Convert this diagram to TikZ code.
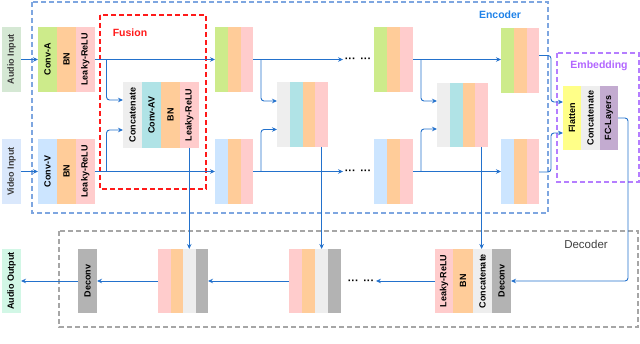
\documentclass[tikz,border=0pt]{standalone}
\usepackage{fontspec}
\setmainfont{Liberation Sans}
\usepackage{graphicx}
\usetikzlibrary{arrows.meta,calc}
\definecolor{cgreen}{HTML}{CDEB8B}
\definecolor{corange}{HTML}{FFCC99}
\definecolor{cpink}{HTML}{FFCCCC}
\definecolor{cblue}{HTML}{CCE5FF}
\definecolor{clgray}{HTML}{EEEEEE}
\definecolor{cteal}{HTML}{B0E3E6}
\definecolor{cdgray}{HTML}{B3B3B3}
\definecolor{cyellow}{HTML}{FFFF88}
\definecolor{cpurple}{HTML}{C3ABD0}
\definecolor{cain}{HTML}{D5E8D4}
\definecolor{cvin}{HTML}{DAE8FC}
\definecolor{caout}{HTML}{D2F7E6}
\definecolor{lc}{HTML}{2371CC}
\definecolor{encc}{HTML}{7EA6E0}
\definecolor{enct}{HTML}{1F82E8}
\definecolor{fusc}{HTML}{FF1A1A}
\definecolor{embc}{HTML}{B57EFF}
\definecolor{embt}{HTML}{B266FF}
\definecolor{decc}{HTML}{A6A6A6}
\definecolor{dect}{HTML}{404040}
\definecolor{intext}{HTML}{3C3C3C}
\newcommand\mkst[7]{\node[st, fill=#6, minimum width=#4pt, minimum height=#5pt] (#1) at (#2,#3) {\rotatebox{90}{#7}};}
\tikzset{
  st/.style={draw=none, inner sep=0pt, outer sep=0pt, anchor=north west, font=\bfseries\fontsize{9}{10}\selectfont},
  ln/.style={draw=lc, line width=0.9pt},
  arr/.style={ln, -{Stealth[length=5pt,width=4.5pt]}},
  dotsnode/.style={inner sep=1.5pt, text height=6.6pt, text depth=0pt, font=\bfseries\fontsize{11}{11}\selectfont},
  lab/.style={font=\bfseries\fontsize{10.5}{11}\selectfont},
}
\begin{document}
\begin{tikzpicture}[x=1pt,y=-1pt]
\useasboundingbox (0,0) rectangle (640,344);
% containers
\draw[encc, line width=1.3pt, dash pattern=on 5pt off 3pt] (32,2) rectangle (548,213);
\draw[fusc, line width=1.8pt, dash pattern=on 5pt off 3pt] (100,15) rectangle (206,189);
\draw[embc, line width=1.3pt, dash pattern=on 5pt off 3pt] (557,53) rectangle (639,182);
\draw[decc, line width=1.3pt, dash pattern=on 5pt off 3pt] (59,231) rectangle (638,327);
\node[lab, text=enct] (enclab) at (500,15) {Encoder};
\node[lab, text=fusc] (fuslab) at (130,33) {Fusion};
\node[lab, text=embt] (emblab) at (599,66) {Embedding};
\node[font=\fontsize{11.5}{12}\selectfont, text=dect] (declab) at (586,244) {Decoder};
% inputs / output
\mkst{ain}{2}{27}{19}{65}{cain}{\textcolor{intext}{Audio Input}}
\mkst{vin}{2}{139}{19}{65}{cvin}{\textcolor{intext}{Video Input}}
\mkst{aout}{2}{249}{19}{64}{caout}{Audio Output}
% column 1
\mkst{ca1}{38}{27}{19}{65}{cgreen}{Conv-A}
\mkst{ca2}{57}{27}{19}{65}{corange}{BN}
\mkst{ca3}{76}{27}{18.5}{65}{cpink}{Leaky-ReLU}
\mkst{cv1}{38}{139}{19}{65}{cblue}{Conv-V}
\mkst{cv2}{57}{139}{19}{65}{corange}{BN}
\mkst{cv3}{76}{139}{18.5}{65}{cpink}{Leaky-ReLU}
\mkst{f1a}{123}{82}{19}{66}{clgray}{Concatenate}
\mkst{f1b}{142}{82}{19}{66}{cteal}{Conv-AV}
\mkst{f1c}{161}{82}{19}{66}{corange}{BN}
\mkst{f1d}{180}{82}{18.5}{66}{cpink}{Leaky-ReLU}
% column 2
\mkst{g2a}{215}{27}{13}{65}{cgreen}{}
\mkst{g2b}{228}{27}{12.5}{65}{corange}{}
\mkst{g2c}{240.5}{27}{12.5}{65}{cpink}{}
\mkst{b2a}{215}{139}{13}{65}{cblue}{}
\mkst{b2b}{228}{139}{12.5}{65}{corange}{}
\mkst{b2c}{240.5}{139}{12.5}{65}{cpink}{}
\mkst{f2a}{277}{82}{12.75}{65}{clgray}{}
\mkst{f2b}{289.75}{82}{12.75}{65}{cteal}{}
\mkst{f2c}{302.5}{82}{12.75}{65}{corange}{}
\mkst{f2d}{315.25}{82}{12.75}{65}{cpink}{}
% column 3
\mkst{g3a}{374}{27}{13}{65}{cgreen}{}
\mkst{g3b}{387}{27}{12.5}{65}{corange}{}
\mkst{g3c}{399.5}{27}{13.5}{65}{cpink}{}
\mkst{b3a}{374}{139}{13}{65}{cblue}{}
\mkst{b3b}{387}{139}{12.5}{65}{corange}{}
\mkst{b3c}{399.5}{139}{13.5}{65}{cpink}{}
\mkst{f3a}{437}{83}{12.75}{64}{clgray}{}
\mkst{f3b}{449.75}{83}{12.75}{64}{cteal}{}
\mkst{f3c}{462.5}{83}{12.75}{64}{corange}{}
\mkst{f3d}{475.25}{83}{12.75}{64}{cpink}{}
% column 4
\mkst{g4a}{501}{28}{13}{65}{cgreen}{}
\mkst{g4b}{514}{28}{12.5}{65}{corange}{}
\mkst{g4c}{526.5}{28}{12.5}{65}{cpink}{}
\mkst{b4a}{501}{139.5}{13}{65}{cblue}{}
\mkst{b4b}{514}{139.5}{12.5}{65}{corange}{}
\mkst{b4c}{526.5}{139.5}{12.5}{65}{cpink}{}
% embedding
\mkst{fl}{563}{86}{18}{64}{cyellow}{Flatten}
\mkst{ec}{581}{86}{19}{64}{clgray}{Concatenate}
\mkst{fc}{600}{86}{18}{64}{cpurple}{FC-Layers}
% decoder
\mkst{dl}{435}{249}{18}{64}{cpink}{Leaky-ReLU}
\mkst{db}{453}{249}{20}{64}{corange}{BN}
\mkst{dc}{473}{249}{19}{64}{clgray}{Concatenate}
\mkst{dd}{492}{249}{19}{64}{cdgray}{Deconv}
\mkst{e1}{289}{249}{13}{64}{cpink}{}
\mkst{e2}{302}{249}{13}{64}{corange}{}
\mkst{e3}{315}{249}{13}{64}{clgray}{}
\mkst{e4}{328}{249}{13}{64}{cdgray}{}
\mkst{h1}{158}{249}{12.5}{64}{cpink}{}
\mkst{h2}{170.5}{249}{12.5}{64}{corange}{}
\mkst{h3}{183}{249}{12.5}{64}{clgray}{}
\mkst{h4}{195.5}{249}{12.5}{64}{cdgray}{}
\mkst{dcv}{78}{249}{19}{64}{cdgray}{Deconv}
% dots
\node[dotsnode] (dots1) at (358,59.5) {···\hspace{4.5pt}···};
\node[dotsnode] (dots2) at (358,171.5) {···\hspace{4.5pt}···};
\node[dotsnode] (dots3) at (361,281) {···\hspace{4.5pt}···};
% connectors
\draw[arr] (ain.east) -- (ca1.west);
\draw[arr] (vin.east) -- (cv1.west);
\draw[arr] (ca3.east) -- (g2a.west);
\draw[arr] (cv3.east) -- (b2a.west);
\draw[arr, rounded corners=3pt] ([xshift=12pt]ca3.east) |- ([yshift=15pt]f1a.west);
\draw[arr, rounded corners=3pt] ([xshift=12pt]cv3.east) |- ([yshift=-15pt]f1a.west);
\draw[arr] (f1d.south) -- (f1d.south |- h3.north);
\draw[arr] (g2c.east) -- (dots1.west);
\draw[arr] (b2c.east) -- (dots2.west);
\draw[arr, rounded corners=3pt] ([xshift=8pt]g2c.east) |- ([yshift=13.5pt]f2a.west);
\draw[arr, rounded corners=3pt] ([xshift=8pt]b2c.east) |- ([yshift=-15pt]f2a.west);
\draw[arr] (f2d.south) -- (f2d.south |- e3.north);
\draw[arr] (g3c.east) -- (g3c.east -| g4a.west);
\draw[arr] (b3c.east) -- (b3c.east -| b4a.west);
\draw[arr, rounded corners=3pt] ([xshift=8pt]g3c.east) |- ([yshift=14pt]f3a.west);
\draw[arr, rounded corners=3pt] ([xshift=8pt]b3c.east) |- ([yshift=-14pt]f3a.west);
\draw[arr] (f3d.south) -- (f3d.south |- dc.north);
\draw[arr, rounded corners=3pt] ([yshift=5pt]g4c.east) -- ++(12pt,0) |- ([yshift=16pt]fl.west);
\draw[arr, rounded corners=3pt] (b4c.east) -- ++(12pt,0) |- ([yshift=-15pt]fl.west);
\draw[arr, rounded corners=3pt] (fc.east) -- ++(10pt,0) |- (dd.east);
\draw[arr] (dl.west) -- (dots3.east);
\draw[arr] (e1.west) -- (h4.east);
\draw[arr] (h1.west) -- (dcv.east);
\draw[arr] (dcv.west) -- (aout.east);
\end{tikzpicture}
\end{document}
